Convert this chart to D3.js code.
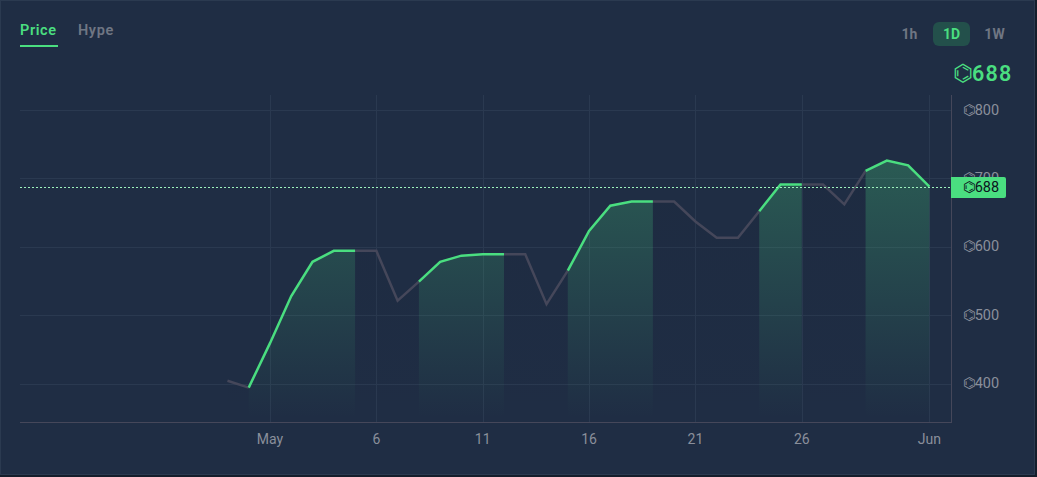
<!DOCTYPE html>
<html><head><meta charset="utf-8">
<style>
html,body{margin:0;padding:0;background:#141d2b;overflow:hidden}
svg{display:block}
text{font-family:"Roboto",sans-serif}
</style>
<script src="https://cdn.jsdelivr.net/npm/d3@7"></script>
</head><body>
<svg id="c" width="1037" height="477"></svg>
<script>
const prices = [404,394,459,528,578,594,594,594,521,549,578,587,589,589,589,516,565,623,660,666,666,666,637,613,613,652,691,691,691,662,711,726,719,688];
const greenRanges = [[1,6],[9,13],[16,20],[25,27],[30,33]];
const greyRanges = [[0,1],[6,9],[13,16],[20,25],[27,30]];
const yTicks = [800,700,600,500,400];
const xTickLabels = ["May","6","11","16","21","26","Jun"];
const xTickIndex = [2,7,12,17,22,27,33];
const tabs = ["Price","Hype"];
const intervals = ["1h","1D","1W"];
const currentPrice = 688;
const coin = "\u232C";

const W=1037,H=477;
const svg=d3.select("#c");
const green="#4ade80", gray="#8a8f9b", lineGray="#45475a", muted="#6f7683";
const x=d3.scaleLinear().domain([2,33]).range([270,929.4]);
const y=d3.scaleLinear().domain([400,800]).range([383.5,110]);
const L=20,R=951.5,T=95,B=422;

svg.append("rect").attr("width",W).attr("height",H).attr("fill","#141d2b");
svg.append("rect").attr("x",.5).attr("y",.5).attr("width",W-3).attr("height",H-3).attr("fill","#1f2d44").attr("stroke","#2b3a50").attr("stroke-width",1);

const defs=svg.append("defs");
const gr=defs.append("linearGradient").attr("id","gf").attr("gradientUnits","userSpaceOnUse").attr("x1",0).attr("x2",0).attr("y1",y(727)).attr("y2",B-4);
gr.append("stop").attr("offset",0).attr("stop-color",green).attr("stop-opacity",.26);
gr.append("stop").attr("offset",1).attr("stop-color",green).attr("stop-opacity",0);
const gd=defs.append("linearGradient").attr("id","gd").attr("gradientUnits","userSpaceOnUse").attr("x1",0).attr("x2",0).attr("y1",y(727)).attr("y2",B-4);
gd.append("stop").attr("offset",0).attr("stop-color","#141d2b").attr("stop-opacity",.12);
gd.append("stop").attr("offset",1).attr("stop-color","#141d2b").attr("stop-opacity",0);

// grid
const grid=svg.append("g").attr("stroke","#2a3950").attr("stroke-width",1);
yTicks.forEach(v=>grid.append("line").attr("x1",L).attr("x2",R).attr("y1",Math.round(y(v))+.5).attr("y2",Math.round(y(v))+.5));
xTickIndex.forEach(i=>grid.append("line").attr("x1",Math.round(x(i))+.5).attr("x2",Math.round(x(i))+.5).attr("y1",T).attr("y2",B));

// areas and lines
const pts=prices.map((p,i)=>({i,p}));
const area=d3.area().x(d=>x(d.i)).y0(B-2).y1(d=>y(d.p));
const line=d3.line().x(d=>x(d.i)).y(d=>y(d.p));
greyRanges.forEach(([a,b])=>svg.append("path").datum(pts.slice(a,b+1)).attr("d",area).attr("fill","url(#gd)"));
greenRanges.forEach(([a,b])=>svg.append("path").datum(pts.slice(a,b+1)).attr("d",area).attr("fill","url(#gf)"));
greyRanges.forEach(([a,b])=>svg.append("path").datum(pts.slice(a,b+1)).attr("d",line).attr("fill","none").attr("stroke",lineGray).attr("stroke-width",2.5));
greenRanges.forEach(([a,b])=>svg.append("path").datum(pts.slice(a,b+1)).attr("d",line).attr("fill","none").attr("stroke",green).attr("stroke-width",2.5));

// axis lines
svg.append("line").attr("x1",L).attr("x2",R+.5).attr("y1",B+.5).attr("y2",B+.5).attr("stroke","#45475a");
svg.append("line").attr("x1",R).attr("x2",R).attr("y1",T).attr("y2",B).attr("stroke","#45475a");

function priceLabel(g,v,fill,yPos){
  const t=g.append("text").attr("x",963).attr("y",yPos).attr("fill",fill).attr("font-size",14.5);
  t.append("tspan").attr("font-family","DejaVu Sans").text(coin);
  t.append("tspan").attr("dx",-1).text(v);
}
// y labels
yTicks.forEach(v=>priceLabel(svg,v,gray,y(v)+4.5));
// x labels
xTickLabels.forEach((t,k)=>{
  svg.append("text").attr("x",x(xTickIndex[k])).attr("y",443.5).attr("text-anchor","middle").attr("font-size",14).attr("fill",gray).text(t);
});

// price line + tag
svg.append("line").attr("x1",L).attr("x2",R).attr("y1",187.5).attr("y2",187.5).attr("stroke","#9df2bd").attr("stroke-dasharray","2 2").attr("stroke-width",1);
svg.append("path").attr("d","M951,177H1004a2,2 0 0 1 2,2V196a2,2 0 0 1 -2,2H951Z").attr("fill",green);
priceLabel(svg,currentPrice,"#0c1420",192);

// big price
const big=svg.append("text").attr("x",953).attr("y",81).attr("fill",green).attr("font-family","Inter").attr("font-weight",600).attr("font-size",21.5);
big.append("tspan").attr("font-family","DejaVu Sans").attr("font-weight",400).attr("font-size",23).attr("dy",0).text(coin);
big.append("tspan").attr("x",972).attr("letter-spacing",1.2).text(currentPrice);

// tabs
svg.append("text").attr("x",20).attr("y",35).attr("font-family","Inter").attr("font-size",14.5).attr("font-weight",600).attr("letter-spacing",.6).attr("fill",green).text(tabs[0]);
svg.append("rect").attr("x",20).attr("y",45).attr("width",38).attr("height",2).attr("fill",green);
svg.append("text").attr("x",78).attr("y",35).attr("font-family","Inter").attr("font-size",14.5).attr("font-weight",600).attr("letter-spacing",.6).attr("fill",muted).text(tabs[1]);

// interval
svg.append("rect").attr("x",933).attr("y",22).attr("width",37).attr("height",24).attr("rx",6).attr("fill","#23504b");
[[909.5,0],[951.5,1],[994.5,2]].forEach(([px,i])=>{
  svg.append("text").attr("x",px).attr("y",39).attr("text-anchor","middle").attr("font-family","Inter").attr("font-size",14).attr("font-weight",700).attr("fill",i==1?green:muted).text(intervals[i]);
});
</script>
</body></html>
